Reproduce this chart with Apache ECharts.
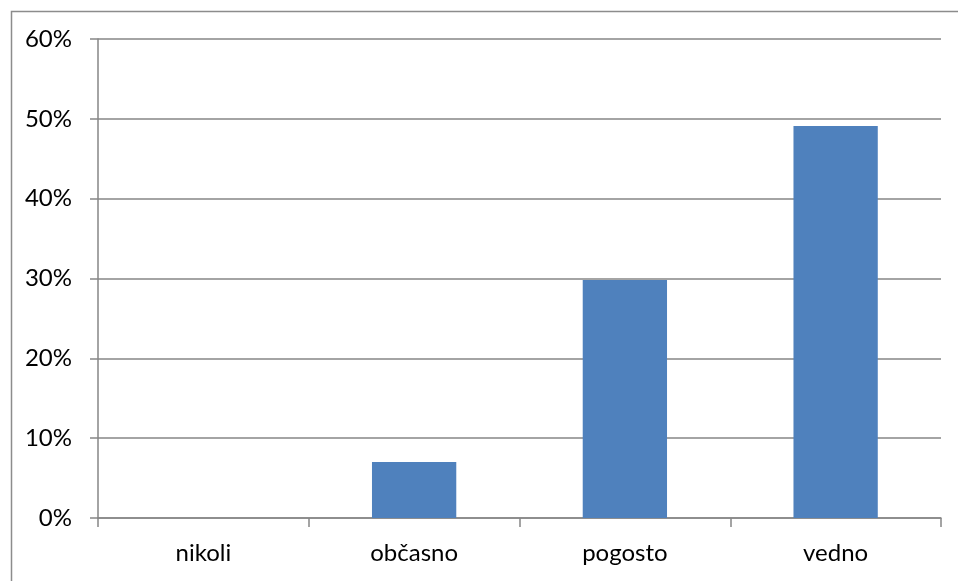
<!DOCTYPE html>
<html>
<head>
<meta charset="utf-8">
<script src="https://cdn.jsdelivr.net/npm/echarts@6/dist/echarts.min.js"></script>
<style>html,body{margin:0;padding:0;background:#fff;}#c{width:958px;height:581px;}</style>
</head>
<body>
<div id="c"></div>
<script>
const categories = ['nikoli', 'občasno', 'pogosto', 'vedno'];
const values = [0, 7.0, 29.8, 49.1];
const yTicks = [0, 10, 20, 30, 40, 50, 60];

const chart = echarts.init(document.getElementById('c'), null, {renderer: 'canvas'});
chart.setOption({
  animation: false,
  backgroundColor: '#ffffff',
  graphic: [{
    type: 'rect', left: 9, top: 9, silent: true,
    shape: {width: 980, height: 600},
    style: {fill: 'none', stroke: '#8c8c8c', lineWidth: 1.5}
  }],
  grid: {left: 98, right: 17, top: 39, bottom: 63, containLabel: false},
  xAxis: {
    type: 'category', data: categories,
    axisLine: {lineStyle: {color: '#868686', width: 1.5}},
    axisTick: {show: true, length: 9, alignWithLabel: false, lineStyle: {color: '#868686', width: 1.5}},
    axisLabel: {color: '#000', fontFamily: 'Lato', fontSize: 24, margin: 23}
  },
  yAxis: {
    type: 'value', min: yTicks[0], max: yTicks[yTicks.length - 1], interval: 10,
    axisLine: {show: true, lineStyle: {color: '#868686', width: 1.5}},
    axisTick: {show: true, length: 8, lineStyle: {color: '#868686', width: 1.5}},
    splitLine: {show: true, lineStyle: {color: '#868686', width: 1.5}},
    axisLabel: {color: '#000', fontFamily: 'Lato', fontSize: 24, margin: 26, formatter: v => v + '%'}
  },
  series: [{
    type: 'bar', data: values, barCategoryGap: '60%',
    itemStyle: {color: '#4f81bd'}
  }]
});
</script>
</body>
</html>
